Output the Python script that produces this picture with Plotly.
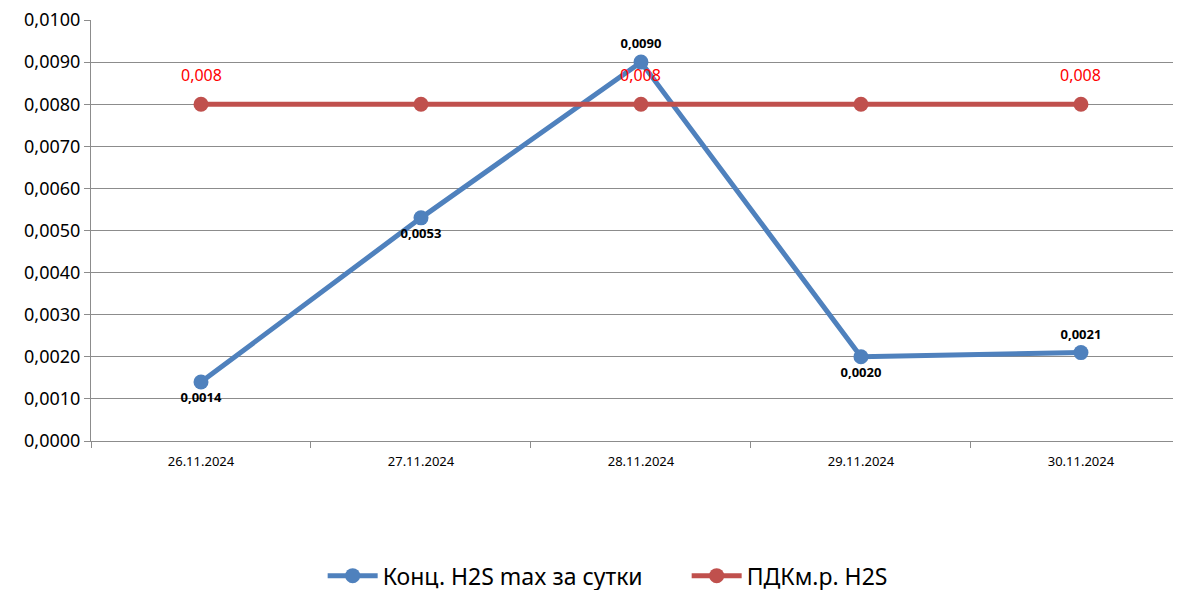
import plotly.graph_objects as go

dates = ["26.11.2024", "27.11.2024", "28.11.2024", "29.11.2024", "30.11.2024"]
h2s_max = [0.0014, 0.0053, 0.0090, 0.0020, 0.0021]
pdk = [0.008, 0.008, 0.008, 0.008, 0.008]
pdk_labels = ["0,008", "", "0,008", "", "0,008"]
h2s_label_pos = ["bottom center", "bottom center", "top center", "bottom center", "top center"]

BLUE = "#4F81BD"
RED = "#C0504D"
GRID = "#8c8c8c"
FONT = "Noto Sans"

fig = go.Figure()

fig.add_trace(go.Scatter(
    x=dates, y=h2s_max, name="Конц. H2S max за сутки",
    mode="lines+markers+text",
    line=dict(color=BLUE, width=5),
    marker=dict(color=BLUE, size=15),
    text=[f"{v:.4f}".replace(".", ",") for v in h2s_max],
    textposition=h2s_label_pos,
    textfont=dict(family=FONT, size=13, color="black", weight="bold"),
))

fig.add_trace(go.Scatter(
    x=dates, y=pdk, name="ПДКм.р. H2S",
    mode="lines+markers",
    line=dict(color=RED, width=5),
    marker=dict(color=RED, size=15),
))

# red labels sit a bit higher than plotly's default text offset
for d, v, lab in zip(dates, pdk, pdk_labels):
    if lab:
        fig.add_annotation(x=d, y=v, text=lab, showarrow=False, yshift=29,
                           font=dict(family=FONT, size=16, color="red"))

fig.update_xaxes(
    type="category", range=[-0.5, 4.432], automargin=False,
    showline=True, linecolor=GRID, linewidth=1,
    ticks="outside", tickson="boundaries", ticklen=6, tickcolor=GRID,
    showgrid=False, ticklabelstandoff=8,
    tickfont=dict(family=FONT, size=13, color="black"),
)
fig.update_yaxes(
    range=[0, 0.01], dtick=0.001, tickformat=".4f", automargin=False,
    ticklabeloverflow="allow",
    showline=True, linecolor=GRID, linewidth=1,
    ticks="outside", ticklen=6, tickcolor=GRID,
    showgrid=True, gridcolor=GRID, gridwidth=1,
    zeroline=False,
    tickfont=dict(family=FONT, size=18, color="black"),
)

# page body adds an 8px margin, so the figure is offset by 8px
fig.update_layout(
    width=1173, height=590,
    separators=", ",
    paper_bgcolor="white", plot_bgcolor="white",
    margin=dict(l=83, r=5, t=12, b=157, autoexpand=False),
    font=dict(family=FONT, color="black"),
    showlegend=True,
    legend=dict(
        orientation="h", x=0.549, xanchor="center", y=-0.32, yanchor="middle",
        font=dict(family=FONT, size=23, color="black"),
        itemwidth=50, entrywidth=299,
    ),
)

fig.write_html("out.html")
